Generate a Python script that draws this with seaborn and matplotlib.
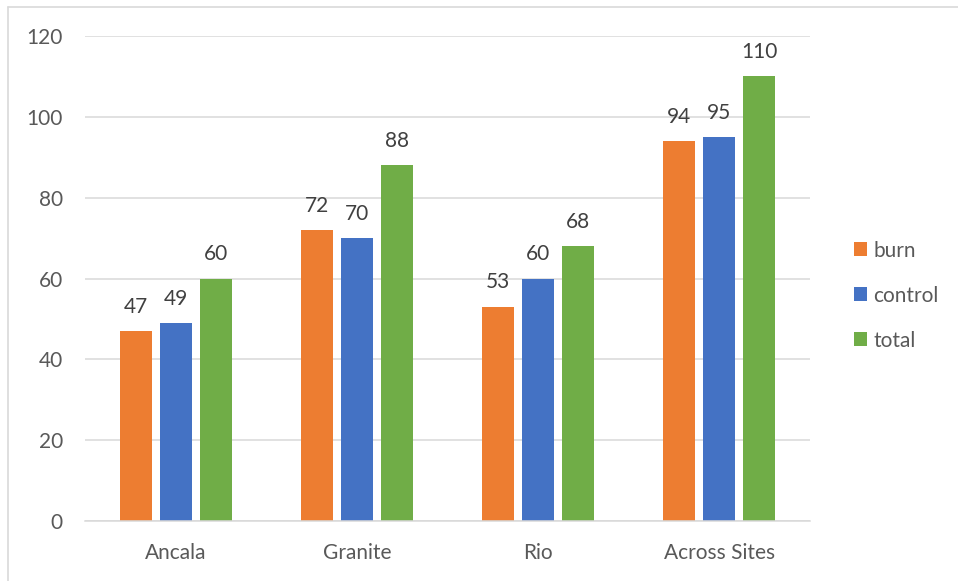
import matplotlib
matplotlib.use("Agg")
import matplotlib.pyplot as plt
import seaborn as sns
import pandas as pd
from matplotlib.lines import Line2D
from matplotlib.patches import Patch

sites = ["Ancala", "Granite", "Rio", "Across Sites"]
burn = [47, 72, 53, 94]
control = [49, 70, 60, 95]
total = [60, 88, 68, 110]
series = ["burn", "control", "total"]
colors = ["#ED7D31", "#4472C4", "#70AD47"]
y_ticks = [0, 20, 40, 60, 80, 100, 120]

df = pd.DataFrame({
    "site": sites * 3,
    "group": ["burn"] * 4 + ["control"] * 4 + ["total"] * 4,
    "value": burn + control + total,
})

sns.set_theme(style="white")
plt.rcParams["font.family"] = ["Lato", "DejaVu Sans"]

fig = plt.figure(figsize=(9.58, 5.81), dpi=100)
ax = fig.add_axes([0.0887, 0.1033, 0.7568, 0.8347])

sns.barplot(data=df, x="site", y="value", hue="group", order=sites,
            hue_order=series, palette=colors, width=0.662, gap=0.2,
            saturation=1, linewidth=0, legend=False, ax=ax)

ax.set_xlim(-0.5, 3.5)
ax.set_ylim(0, 120)
ax.set_yticks(y_ticks)
ax.yaxis.grid(True, color="#d9d9d9", linewidth=1.1)
ax.set_axisbelow(True)
for side in ["top", "right", "left"]:
    ax.spines[side].set_visible(False)
ax.spines["bottom"].set_color("#d9d9d9")
ax.spines["bottom"].set_linewidth(1.1)
ax.tick_params(axis="both", length=0, labelsize=15, colors="#595959")
ax.tick_params(axis="y", pad=16)
ax.tick_params(axis="x", pad=16)
ax.set_xlabel("")
ax.set_ylabel("")

# value labels above each bar
for container in ax.containers:
    for bar in container:
        h = bar.get_height()
        ax.annotate(f"{h:g}", (bar.get_x() + bar.get_width() / 2, h),
                    xytext=(0, 17.5), textcoords="offset points",
                    ha="center", va="center", fontsize=15, color="#404040")

handles = [Patch(facecolor=c, edgecolor="none") for c in colors]
fig.legend(handles, series, loc="center left", bbox_to_anchor=(0.891, 0.491),
           frameon=False, fontsize=15, labelcolor="#595959",
           handlelength=0.65, handleheight=0.65, handletextpad=0.3,
           labelspacing=1.2, borderpad=0, borderaxespad=0)

# chart frame
fig.add_artist(Line2D([8 / 958, 8 / 958], [0, 1 - 7 / 581], color="#d9d9d9",
                      linewidth=1.2, transform=fig.transFigure))
fig.add_artist(Line2D([8 / 958, 1], [1 - 7 / 581, 1 - 7 / 581], color="#d9d9d9",
                      linewidth=1.2, transform=fig.transFigure))

fig.savefig("out.png", dpi=100)
